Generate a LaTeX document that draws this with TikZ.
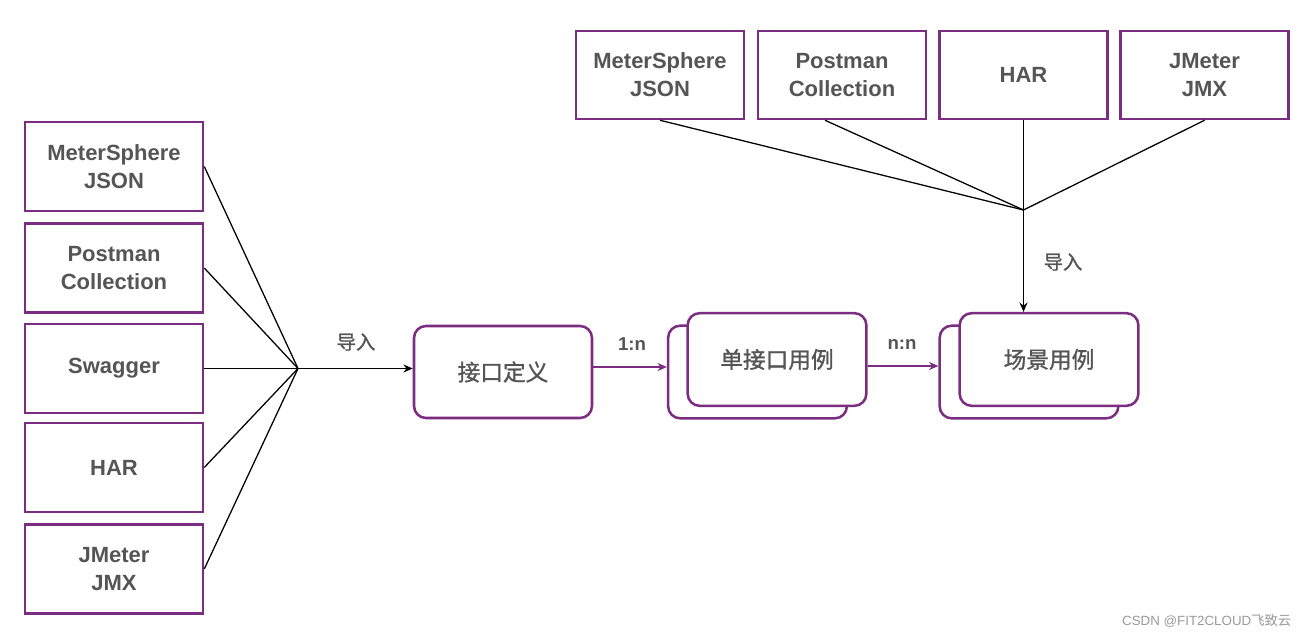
\documentclass[tikz,border=0pt]{standalone}
\usepackage{fontspec}
\setmainfont{Liberation Sans}
\newfontfamily\cjk{Noto Sans CJK SC}
\newfontfamily\cjkm[FakeBold=1.2]{Noto Sans CJK SC}
\usetikzlibrary{arrows.meta}
\definecolor{vpurple}{HTML}{7B2D82}
\definecolor{vtext}{HTML}{555555}
\definecolor{vmark}{HTML}{9A9A9A}
\begin{document}
\begin{tikzpicture}[x=0.75pt,y=-0.75pt,
  srcbox/.style={draw=vpurple, line width=1.9pt, fill=white, minimum width=133.5pt, minimum height=66.75pt, inner sep=0pt, align=center, text=vtext, font=\fontsize{16.5}{21}\selectfont\bfseries},
  topbox/.style={srcbox, minimum width=126pt, minimum height=66pt},
  roundbox/.style={draw=vpurple, line width=1.9pt, fill=white, rounded corners=9pt, minimum width=134pt, minimum height=69.5pt, inner sep=0pt, text=vtext, font=\fontsize{17}{21}\selectfont\cjkm},
  thinline/.style={black, line width=0.95pt},
  mainarrow/.style={black, line width=1.35pt, -{Stealth[length=7pt,width=6pt]}},
  purplearrow/.style={vpurple, line width=1.4pt, -{Stealth[length=7pt,width=6pt]}},
  lbl/.style={text=vtext, font=\fontsize{14}{16}\selectfont\bfseries},
  cjklbl/.style={text=vtext, font=\fontsize{14.5}{16}\selectfont\cjkm}
]
\useasboundingbox (0,0) rectangle (1312,638);
\fill[white] (0,0) rectangle (1312,638);

% left sources
\node[srcbox] (s1) at (114,166.5) {MeterSphere\\JSON};
\node[srcbox] (s2) at (114,268) {Postman\\Collection};
\node[srcbox] (s3) at (114,368.5) {Swagger};
\node[srcbox] (s4) at (114,467.5) {HAR};
\node[srcbox] (s5) at (114,569) {JMeter\\JMX};

% top sources
\node[topbox] (t1) at (660,75) {MeterSphere\\JSON};
\node[topbox] (t2) at (842,75) {Postman\\Collection};
\node[topbox] (t3) at (1023.5,75) {HAR};
\node[topbox] (t4) at (1204.5,75) {JMeter\\JMX};

% main boxes
\node[roundbox, minimum width=133.5pt, minimum height=69pt] (def) at (503,372) {接口定义};
\node[roundbox] (d1b) at (757.5,372) {};
\node[roundbox] (d1f) at (777,359.5) {单接口用例};
\node[roundbox] (d2b) at (1029,372) {};
\node[roundbox] (d2f) at (1049,359.5) {场景用例};

% junctions
\coordinate (jl) at (298,368.5);
\coordinate (jt) at (1023.5,210);

\draw[thinline] (s1.east) -- (jl);
\draw[thinline] (s2.east) -- (jl);
\draw[mainarrow] (s3.east) -- (def.west |- jl);
\draw[thinline] (s4.east) -- (jl);
\draw[thinline] (s5.east) -- (jl);
\node[cjklbl] (lblL) at (356,342) {导入};

\draw[thinline] (t1.south) -- (jt);
\draw[thinline] ([xshift=-12.75pt]t2.south) -- (jt);
\draw[thinline] (t4.south) -- (jt);
\draw[mainarrow] (t3.south) -- (t3.south |- d2f.north);
\node[cjklbl] (lblT) at (1063,262) {导入};

\draw[purplearrow] ([yshift=3.75pt]def.east) -- ([yshift=3.75pt]d1b.west);
\node[lbl] (l1n) at (632,344) {1:n};
\draw[purplearrow] ([yshift=-4.9pt]d1f.east) -- ([yshift=4.5pt]d2b.west);
\node[lbl] (lnn) at (902,344) {n:n};

\node[text=vmark, font=\fontsize{10}{12}\selectfont, anchor=east] (wm) at (1296,621) {CSDN @FIT2CLOUD{\cjk 飞致云}};
\end{tikzpicture}
\end{document}
